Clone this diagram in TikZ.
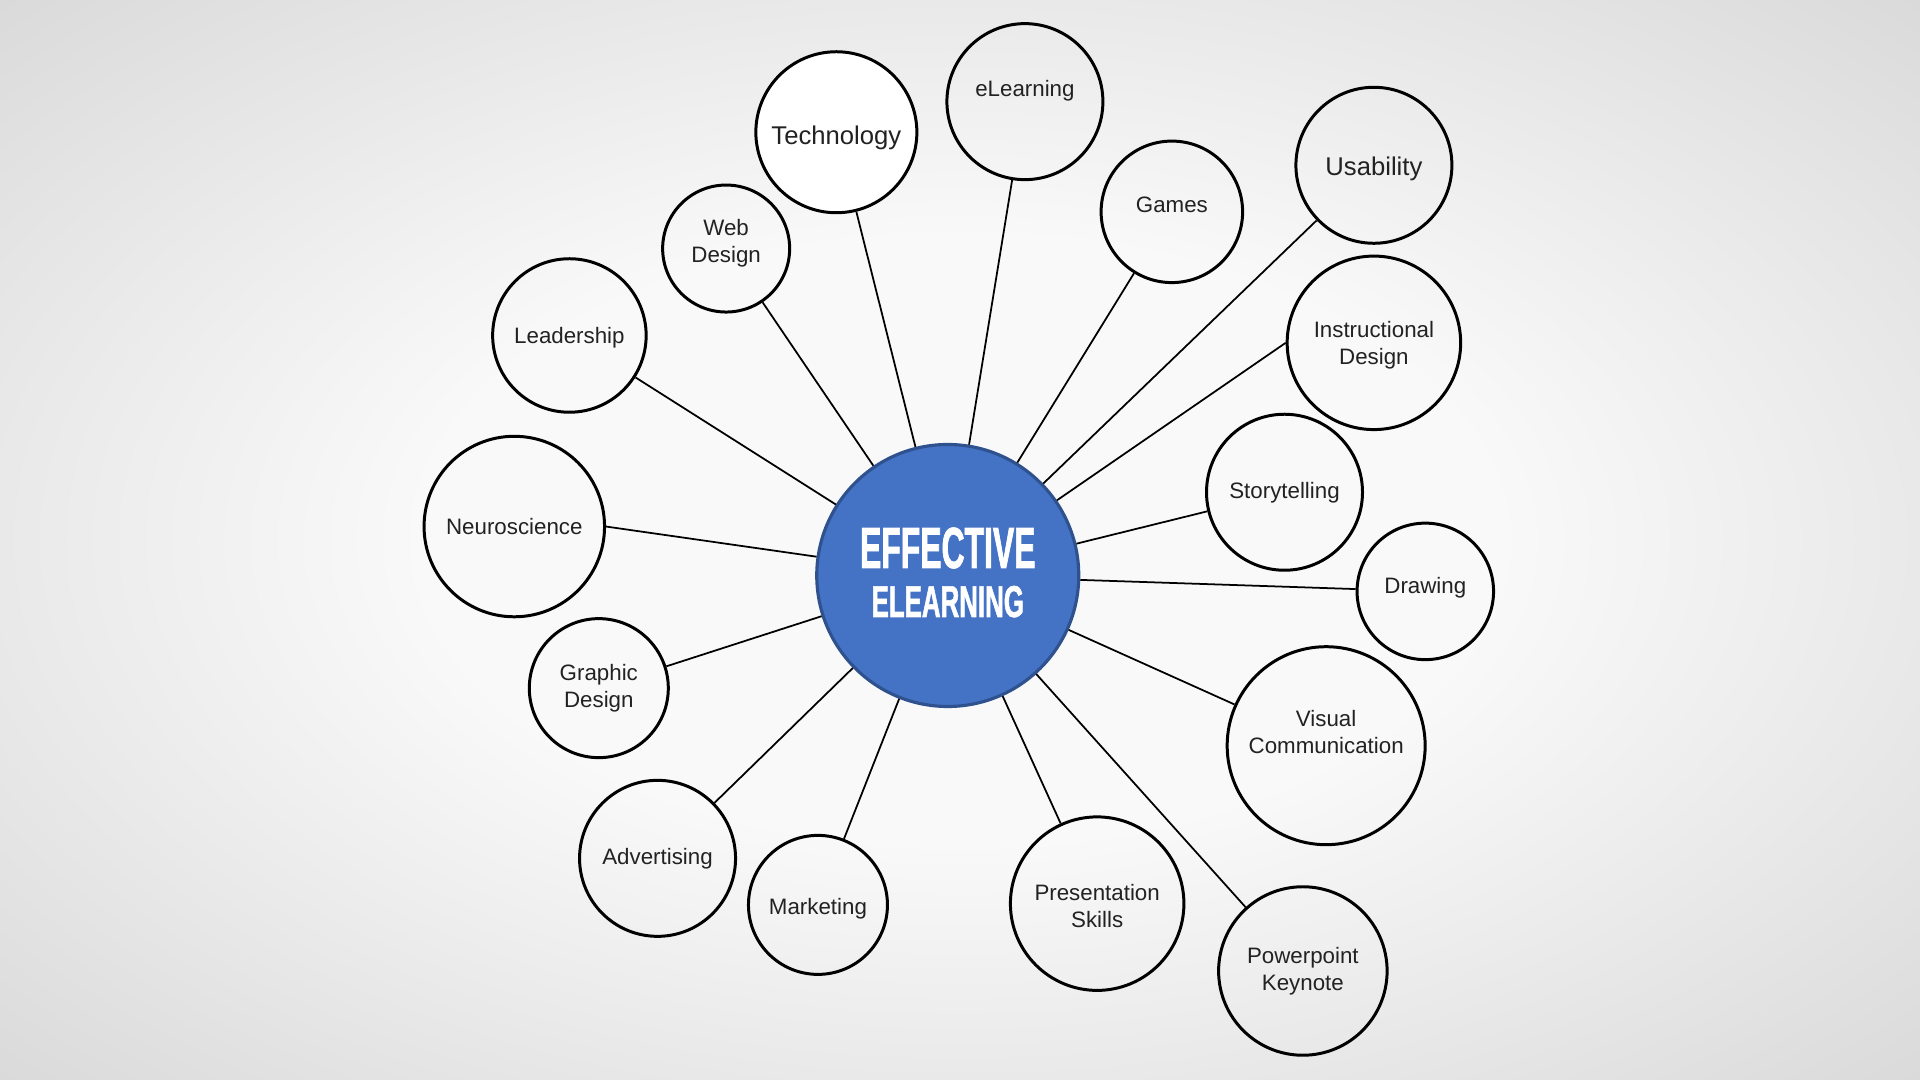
\documentclass[tikz,border=0pt]{standalone}
\usepackage{fontspec}
\setmainfont{Liberation Sans}
\newfontfamily\hubfont[FakeStretch=0.55,FakeBold=1.2]{Liberation Sans Bold}
\newfontfamily\hubfontb[FakeStretch=0.58,FakeBold=1.2]{Liberation Sans Bold}
\usepackage{xcolor}
\usepackage{tikz}
\definecolor{bgin}{HTML}{F9F9F9}
\definecolor{bgout}{HTML}{D9D9D9}
\definecolor{hubblue}{HTML}{4472C4}
\definecolor{hubedge}{HTML}{2F528F}
\definecolor{topictext}{HTML}{222222}
\pgfdeclareradialshading{vignette}{\pgfpoint{0bp}{0bp}}{color(0bp)=(bgin); color(14bp)=(bgin); color(36bp)=(bgout); color(50bp)=(bgout)}
% raise a label without changing its box
\newcommand{\lift}[2]{\raisebox{#1}[\height][\depth]{#2}}
\tikzset{
  topic/.style={circle, draw=black, line width=1.7pt, text=topictext, align=center,
    inner sep=0pt, font=\fontsize{12.7}{15.3}\selectfont},
  bigtopic/.style={topic, font=\fontsize{14.6}{17}\selectfont},
  hub/.style={circle, draw=hubedge, line width=1.8pt, fill=hubblue, inner sep=0pt},
  hubtext/.style={text=white, anchor=base, inner sep=0pt},
  link/.style={line width=1pt, black}
}

\begin{document}
\begin{tikzpicture}
  % ---- Background ----
  \shade[shading=vignette] (0,0) rectangle (38.4,21.6);
  \useasboundingbox (0,0) rectangle (38.4,21.6);
  % ---- Hub ----
  \node[hub, minimum size=5.24cm] (hub) at (18.955,10.090) {};
  \node[hubtext, font=\hubfont\fontsize{33}{33}\selectfont] (hubtop) at (18.955,10.24) {EFFECTIVE};
  \node[hubtext, font=\hubfontb\fontsize{25.4}{25.4}\selectfont] (hubbot) at (18.955,9.26) {ELEARNING};
  % ---- Upper topics ----
  \node[bigtopic, fill=white, minimum size=3.22cm] (tech) at (16.727,18.955) {\lift{-0.12cm}{Technology}};
  \node[topic, minimum size=3.12cm] (elearn) at (20.498,19.567) {\lift{0.22cm}{eLearning}};
  \node[topic, minimum size=2.83cm] (games) at (23.437,17.363) {\lift{0.15cm}{Games}};
  \node[bigtopic, minimum size=3.12cm] (usab) at (27.478,18.294) {\lift{-0.07cm}{Usability}};
  \node[topic, minimum size=3.47cm] (instr) at (27.478,14.743) {\lift{-0.04cm}{Instructional}\\\lift{-0.04cm}{Design}};
  \node[topic, minimum size=2.54cm] (web) at (14.523,16.629) {\lift{0.1cm}{Web}\\\lift{0.1cm}{Design}};
  \node[topic, minimum size=3.07cm] (lead) at (11.388,14.890) {\lift{-0.05cm}{Leadership}};
  % ---- Right topics ----
  \node[topic, minimum size=3.12cm] (story) at (25.690,11.755) {Storytelling};
  \node[topic, minimum size=2.73cm] (drawing) at (28.506,9.772) {\lift{0.07cm}{Drawing}};
  \node[topic, minimum size=3.96cm] (visual) at (26.523,6.686) {\lift{0.27cm}{Visual}\\\lift{0.27cm}{Communication}};
  \node[topic, minimum size=3.37cm] (ppt) at (26.057,2.180) {Powerpoint\\Keynote};
  \node[topic, minimum size=3.47cm] (present) at (21.943,3.527) {\lift{-0.05cm}{Presentation}\\\lift{-0.05cm}{Skills}};
  % ---- Left topics ----
  \node[topic, minimum size=3.61cm] (neuro) at (10.286,11.069) {Neuroscience};
  \node[topic, minimum size=2.78cm] (graphic) at (11.976,7.837) {Graphic\\Design};
  \node[topic, minimum size=3.12cm] (advert) at (13.151,4.433) {Advertising};
  \node[topic, minimum size=2.78cm] (market) at (16.359,3.502) {\lift{-0.07cm}{Marketing}};
  % ---- Links ----
  \draw[link] (hub) -- (tech);
  \draw[link] (hub) -- (elearn);
  \draw[link] (hub) -- (games);
  \draw[link] (hub) -- (usab);
  \draw[link] (hub) -- (instr.west);
  \draw[link] (hub) -- (web);
  \draw[link] (hub) -- (lead);
  \draw[link] (hub) -- (story);
  \draw[link] (hub) -- (drawing);
  \draw[link] (hub) -- (visual);
  \draw[link] (hub) -- (ppt);
  \draw[link] (hub) -- (present);
  \draw[link] (hub) -- (neuro.east);
  \draw[link] (hub) -- (graphic);
  \draw[link] (hub) -- (advert);
  \draw[link] (hub) -- (market);
\end{tikzpicture}
\end{document}
